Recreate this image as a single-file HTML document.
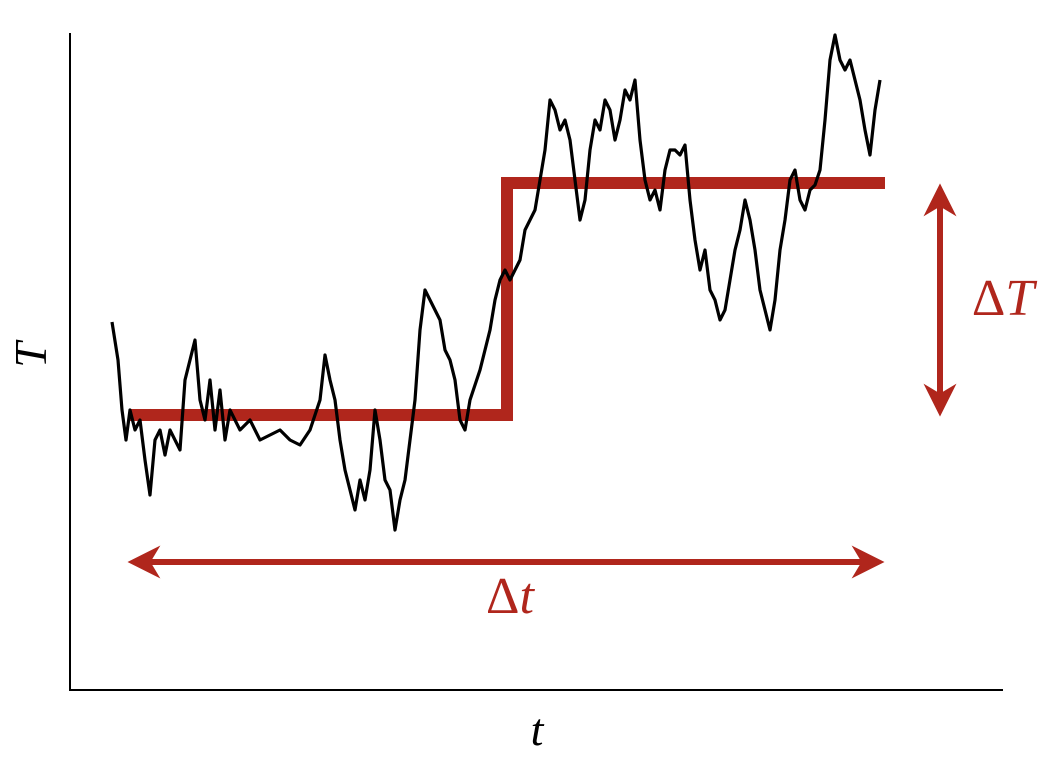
<!DOCTYPE html>
<html><head><meta charset="utf-8"><style>
html,body{margin:0;padding:0;background:#fff;}
svg{display:block;}
</style></head><body>
<svg id="chart" width="1053" height="758" viewBox="0 0 1053 758" xmlns="http://www.w3.org/2000/svg">
<defs>
<marker id="ah" viewBox="0 0 10 10" refX="8" refY="5" markerWidth="5.5" markerHeight="5.5" orient="auto-start-reverse" markerUnits="strokeWidth">
<path d="M0,0 L10,5 L0,10 L3,5 z" fill="#b0261c"/>
</marker>
</defs>
<line x1="70" y1="33" x2="70" y2="690" stroke="#000" stroke-width="2"/>
<line x1="69" y1="690" x2="1003" y2="690" stroke="#000" stroke-width="2"/>
<g id="step"></g>
<g id="series"></g>
<line x1="940" y1="190" x2="940" y2="410" stroke="#b0261c" stroke-width="6" marker-start="url(#ah)" marker-end="url(#ah)"/>
<line x1="134" y1="562" x2="878" y2="562" stroke="#b0261c" stroke-width="6" marker-start="url(#ah)" marker-end="url(#ah)"/>
<text x="1003" y="315" text-anchor="middle" font-family="Liberation Serif, serif" font-size="52" fill="#b0261c">Δ<tspan font-style="italic">T</tspan></text>
<text x="510" y="613" text-anchor="middle" font-family="Liberation Serif, serif" font-size="52" fill="#b0261c">Δ<tspan font-style="italic">t</tspan></text>
<text x="0" y="0" transform="translate(46,355) rotate(-90)" text-anchor="middle" font-family="Liberation Serif, serif" font-style="italic" font-size="46" fill="#000">T</text>
<text x="537" y="745" text-anchor="middle" font-family="Liberation Serif, serif" font-style="italic" font-size="46" fill="#000">t</text>
</svg>
<script>
const times = [42,48,52,56,60,65,70,75,80,85,90,95,100,105,110,115,120,125,130,135,140,145,150,155,160,170,180,190,200,210,220,230,240,250,255,260,265,270,275,280,285,290,295,300,305,310,315,320,325,330,335,340,345,350,355,360,365,370,375,380,385,390,395,400,410,420,425,430,435,440,445,450,455,460,465,470,475,480,485,490,495,500,505,510,515,520,525,530,535,540,545,550,555,560,565,570,575,580,585,590,595,600,605,610,615,620,625,630,635,640,645,650,655,660,665,670,675,680,685,690,695,700,705,710,715,720,725,730,735,740,745,750,755,760,765,770,775,780,785,790,795,800,805,810];
const temps = [368,330,280,250,280,260,270,230,195,250,260,235,260,250,240,310,330,350,290,270,310,260,300,250,280,260,270,250,255,260,250,245,260,290,335,310,290,250,220,200,180,210,190,220,280,250,210,200,160,190,210,250,290,360,400,390,380,370,340,330,310,270,260,290,320,360,390,410,420,410,420,430,460,470,480,510,540,590,580,560,570,550,510,470,490,540,570,560,590,580,550,570,600,590,610,550,510,490,500,480,520,540,540,535,545,490,450,420,440,400,390,370,380,410,440,460,490,470,440,400,380,360,390,440,470,510,520,490,480,500,505,520,570,630,655,630,620,630,610,590,560,535,580,610];
const stepTimes = [60, 437, 437, 815];
const stepTemps = [275, 275, 507, 507];

const xScale = t => 70 + t;
const yScale = v => 690 - v;
const NS = 'http://www.w3.org/2000/svg';

const stepG = document.getElementById('step');
const sp = document.createElementNS(NS, 'polyline');
sp.setAttribute('points', stepTimes.map((t,i)=>xScale(t)+','+yScale(stepTemps[i])).join(' '));
sp.setAttribute('fill', 'none');
sp.setAttribute('stroke', '#b0261c');
sp.setAttribute('stroke-width', '12');


stepG.appendChild(sp);

const g = document.getElementById('series');
const n = Math.min(times.length, temps.length);
const pts = [];
for (let i = 0; i < n; i++) pts.push(xScale(times[i]) + ',' + yScale(temps[i]));
const pl = document.createElementNS(NS, 'polyline');
pl.setAttribute('points', pts.join(' '));
pl.setAttribute('fill', 'none');
pl.setAttribute('stroke', '#000');
pl.setAttribute('stroke-width', '3.2');
pl.setAttribute('stroke-linejoin', 'round');


g.appendChild(pl);
</script>
</body></html>
